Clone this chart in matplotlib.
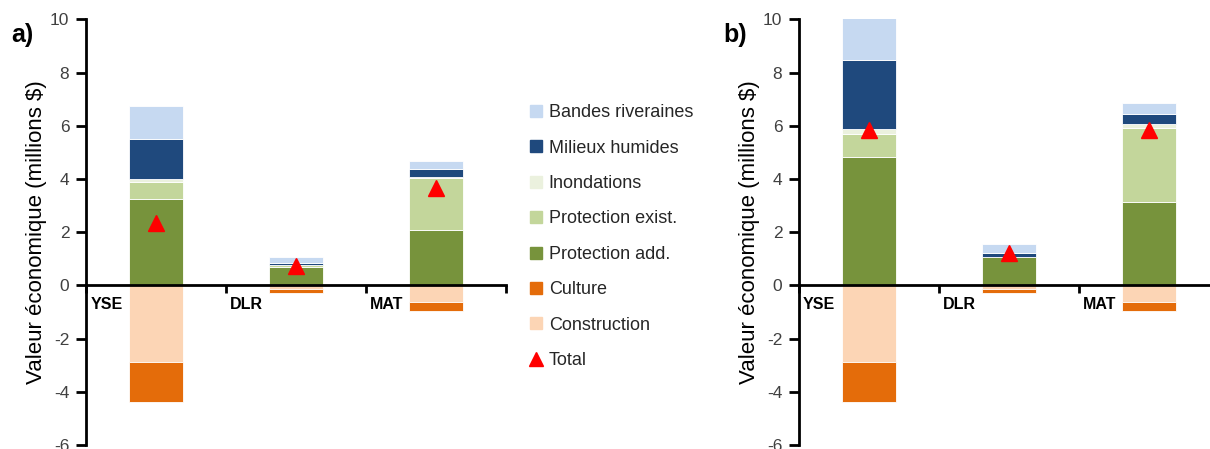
import matplotlib
matplotlib.use("Agg")
import matplotlib.pyplot as plt
from matplotlib.lines import Line2D
import numpy as np

plt.rcParams['font.family'] = ['Liberation Sans', 'DejaVu Sans']
plt.rcParams['axes.unicode_minus'] = False

categories = ['YSE', 'DLR', 'MAT']

# Panel a (millions $)
prot_add_a = [3.25, 0.71, 2.09]
prot_exist_a = [0.62, 0.04, 1.96]
inond_a = [0.13, 0.02, 0.04]
milieux_a = [1.49, 0.07, 0.28]
bandes_a = [1.26, 0.21, 0.29]
construction_a = [-2.88, -0.12, -0.61]
culture_a = [-1.50, -0.17, -0.34]
total_a = [2.36, 0.72, 3.66]

# Panel b (millions $)
prot_add_b = [4.83, 1.05, 3.12]
prot_exist_b = [0.86, 0.01, 2.81]
inond_b = [0.19, 0.02, 0.14]
milieux_b = [2.59, 0.12, 0.39]
bandes_b = [1.76, 0.36, 0.39]
construction_b = [-2.88, -0.12, -0.61]
culture_b = [-1.50, -0.17, -0.34]
total_b = [5.86, 1.22, 5.84]

labels_pos = ['Protection add.', 'Protection exist.', 'Inondations', 'Milieux humides', 'Bandes riveraines']
colors_pos = ['#77933C', '#C3D69B', '#EBF1DE', '#1F497D', '#C6D9F1']
labels_neg = ['Construction', 'Culture']
colors_neg = ['#FCD5B5', '#E46C0A']

fig = plt.figure(figsize=(12.1, 4.49), dpi=100)

def draw(ax, pos_series, neg_series, total):
    x = np.arange(len(categories)) + 0.5
    w = 0.39
    bottom = np.zeros(len(categories))
    for vals, col in zip(pos_series, colors_pos):
        ax.bar(x, vals, w, bottom=bottom, color=col, edgecolor='white', linewidth=0.6, zorder=2)
        bottom = bottom + np.array(vals)
    bottom = np.zeros(len(categories))
    for vals, col in zip(neg_series, colors_neg):
        ax.bar(x, vals, w, bottom=bottom, color=col, edgecolor='white', linewidth=0.6, zorder=2)
        bottom = bottom + np.array(vals)
    ax.plot(x, total, linestyle='none', marker='^', color='#FF0000', markersize=11, zorder=4)
    ax.set_xlim(0, 3)
    ax.set_ylim(-6, 10)
    ax.set_yticks(np.arange(-6, 11, 2))
    ax.set_xticks([0, 1, 2, 3])
    ax.set_xticklabels([])
    ax.spines['top'].set_visible(False)
    ax.spines['right'].set_visible(False)
    ax.spines['bottom'].set_position(('data', 0))
    ax.spines['bottom'].set_zorder(3)
    for s in ['left', 'bottom']:
        ax.spines[s].set_linewidth(2)
        ax.spines[s].set_color('black')
    ax.tick_params(axis='y', direction='out', length=7, width=2, labelsize=12.5,
                   labelcolor='#404040', pad=5)
    ax.tick_params(axis='x', direction='out', length=6, width=2)
    for i, c in enumerate(categories):
        ax.text(i + 0.03, -0.45, c, ha='left', va='top', fontsize=11.5,
                fontweight='bold', color='black')
    ax.set_ylabel('Valeur économique (millions $)', fontsize=16, labelpad=2, color='black')
    ax.patch.set_alpha(0)

ax1 = fig.add_axes([0.0711, 0.0089, 0.3471, 0.9479])
draw(ax1, [prot_add_a, prot_exist_a, inond_a, milieux_a, bandes_a],
     [construction_a, culture_a], total_a)
ax2 = fig.add_axes([0.6603, 0.0089, 0.3471, 0.9479])
draw(ax2, [prot_add_b, prot_exist_b, inond_b, milieux_b, bandes_b],
     [construction_b, culture_b], total_b)

fig.text(0.009, 0.922, 'a)', fontsize=18, fontweight='bold', ha='left', va='center')
fig.text(0.598, 0.922, 'b)', fontsize=18, fontweight='bold', ha='left', va='center')

leg_labels = ['Bandes riveraines', 'Milieux humides', 'Inondations', 'Protection exist.',
              'Protection add.', 'Culture', 'Construction', 'Total']
leg_colors = ['#C6D9F1', '#1F497D', '#EBF1DE', '#C3D69B', '#77933C', '#E46C0A', '#FCD5B5']
handles = [Line2D([0], [0], linestyle='none', marker='s', markersize=9,
                  markerfacecolor=c, markeredgecolor=c) for c in leg_colors]
handles.append(Line2D([0], [0], linestyle='none', marker='^', markersize=10,
                      markerfacecolor='#FF0000', markeredgecolor='#FF0000'))
fig.legend(handles, leg_labels, loc='upper left', bbox_to_anchor=(0.437, 0.768),
           frameon=False, fontsize=13, handlelength=0.8, handletextpad=0.3,
           labelspacing=1.02, borderpad=0, borderaxespad=0, labelcolor='#262626')

fig.savefig('out.png', dpi=100)
